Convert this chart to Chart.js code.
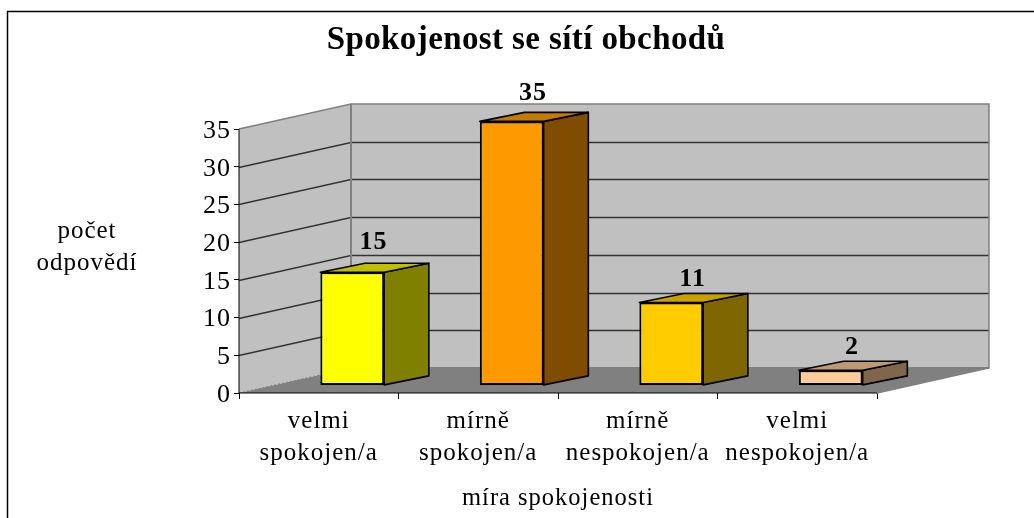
<!DOCTYPE html>
<html><head><meta charset="utf-8">
<style>html,body{margin:0;padding:0;background:#fff}#w{position:relative;width:1034px;height:518px}</style>
<script src="https://cdn.jsdelivr.net/npm/chart.js@4"></script>
</head><body><div id="w"><canvas id="c" width="1034" height="518"></canvas></div>
<script>
const categories = [["velmi","spokojen/a"],["mírně","spokojen/a"],["mírně","nespokojen/a"],["velmi","nespokojen/a"]];
const values = [15,35,11,2];
const yTicks = [0,5,10,15,20,25,30,35];
const frontColors = ["#ffff00","#ff9900","#ffcc00","#ffcc99"];
const sideColors = ["#808000","#804d00","#806600","#80664d"];
const topColors = ["#bfbf00","#c77a00","#c8a000","#bf9973"];
const chartTitle = "Spokojenost se sítí obchodů";
const xTitle = "míra spokojenosti";
const yTitle = ["počet","odpovědí"];

const SERIF = '"Liberation Serif","Times New Roman",serif';
const wall = {dx:112, dy:-25};
const barShift = {dx:33.5, dy:-7.6};
const barDepth = {dx:44.7, dy:-9};
const labelGaps = [31,29,24,24];

const frame = {
  id:'frame',
  beforeDraw(chart){ chart.ctx.letterSpacing='1px'; },
  beforeDatasetsDraw(chart){
    const {ctx, scales:{x,y}} = chart;
    const l=x.left, r=x.right, b=y.getPixelForValue(0), t=y.getPixelForValue(35);
    ctx.save();
    ctx.strokeStyle='#000'; ctx.lineWidth=1.5;
    ctx.strokeRect(7.5,11.5,1100,600);
    ctx.fillStyle='#c0c0c0';
    ctx.beginPath();ctx.moveTo(l,b);ctx.lineTo(l,t);ctx.lineTo(l+wall.dx,t+wall.dy);ctx.lineTo(l+wall.dx,b+wall.dy);ctx.closePath();ctx.fill();
    ctx.fillRect(l+wall.dx,t+wall.dy,r-l,b-t);
    ctx.fillStyle='#808080';
    ctx.beginPath();ctx.moveTo(l,b);ctx.lineTo(r,b);ctx.lineTo(r+wall.dx,b+wall.dy);ctx.lineTo(l+wall.dx,b+wall.dy);ctx.closePath();ctx.fill();
    ctx.lineWidth=1.3;ctx.strokeStyle='#333';
    yTicks.forEach(v=>{
      if(v===0||v===35) return;
      const p=Math.round(y.getPixelForValue(v))+.5;
      ctx.beginPath();ctx.moveTo(l,p);ctx.lineTo(l+wall.dx,p+wall.dy);ctx.lineTo(r+wall.dx,p+wall.dy);ctx.stroke();
    });
    ctx.strokeStyle='#808080';ctx.lineWidth=1.5;
    ctx.beginPath();ctx.moveTo(l,t);ctx.lineTo(l+wall.dx,t+wall.dy);ctx.lineTo(r+wall.dx,t+wall.dy);ctx.lineTo(r+wall.dx,b+wall.dy);ctx.lineTo(r,b);ctx.stroke();
    ctx.lineWidth=2;
    ctx.beginPath();ctx.moveTo(l+wall.dx,t+wall.dy);ctx.lineTo(l+wall.dx,b+wall.dy);ctx.lineTo(r+wall.dx,b+wall.dy);ctx.stroke();
    ctx.lineWidth=1;ctx.setLineDash([2,2]);
    ctx.beginPath();ctx.moveTo(l,b);ctx.lineTo(l+wall.dx,b+wall.dy);ctx.stroke();ctx.setLineDash([]);
    ctx.strokeStyle='#000';ctx.lineWidth=1;
    ctx.beginPath();ctx.moveTo(l,t);ctx.lineTo(l,b);ctx.lineTo(r,b);ctx.stroke();
    ctx.restore();
    const meta=chart.getDatasetMeta(0);
    ctx.save();
    ctx.translate(barShift.dx,barShift.dy);
    ctx.lineJoin='round';ctx.strokeStyle='#000';ctx.lineWidth=1.6;
    meta.data.forEach((bar,i)=>{
      const xl=bar.x-bar.width/2,xr=bar.x+bar.width/2,yt=bar.y,yb=bar.base;
      const d=barDepth;
      ctx.fillStyle=sideColors[i];
      ctx.beginPath();ctx.moveTo(xr,yt);ctx.lineTo(xr+d.dx,yt+d.dy);ctx.lineTo(xr+d.dx,yb+d.dy);ctx.lineTo(xr,yb);ctx.closePath();ctx.fill();ctx.stroke();
      ctx.fillStyle=topColors[i];
      ctx.beginPath();ctx.moveTo(xl,yt);ctx.lineTo(xl+d.dx,yt+d.dy);ctx.lineTo(xr+d.dx,yt+d.dy);ctx.lineTo(xr,yt);ctx.closePath();ctx.fill();ctx.stroke();
    });
  },
  afterDatasetsDraw(chart){
    const {ctx}=chart;
    ctx.restore();
    const meta=chart.getDatasetMeta(0);
    ctx.save();
    ctx.fillStyle='#000';ctx.textAlign='center';ctx.textBaseline='middle';
    ctx.font='bold 26px '+SERIF;
    meta.data.forEach((bar,i)=>{
      ctx.fillText(String(values[i]),bar.x+barShift.dx+barDepth.dx/2-1,bar.y+barShift.dy-labelGaps[i]+1);
    });
    ctx.letterSpacing='0.4px';
    ctx.font='bold 33px '+SERIF;
    ctx.fillText(chartTitle,526,40);
    ctx.letterSpacing='1px';
    ctx.font='25px '+SERIF;
    ctx.fillText(yTitle[0],87,231);
    ctx.fillText(yTitle[1],87,263);
    ctx.restore();
  }
};

new Chart(document.getElementById('c'),{
  type:'bar',
  data:{labels:categories,datasets:[{data:values,backgroundColor:frontColors,borderColor:'#000',borderWidth:2,borderSkipped:false,barPercentage:0.4,categoryPercentage:1,clip:false}]},
  plugins:[frame],
  options:{
    responsive:false,animation:false,
    layout:{padding:{top:129,left:0,right:157,bottom:0}},
    plugins:{legend:{display:false},tooltip:{enabled:false},title:{display:false}},
    scales:{
      x:{
        afterFit(s){s.height=125;},
        grid:{display:true,drawOnChartArea:false,drawTicks:true,tickLength:6,color:'#000',offset:true},
        border:{display:false},
        ticks:{color:'#000',font:{family:SERIF,size:25,lineHeight:1.28},padding:6,maxRotation:0,autoSkip:false},
        title:{display:true,text:xTitle,color:'#000',font:{family:SERIF,size:24.5},padding:{top:2,bottom:5}}
      },
      y:{
        min:0,max:35,
        afterFit(s){s.width=239;},
        afterBuildTicks(s){s.ticks=yTicks.map(v=>({value:v}));},
        grid:{display:true,drawOnChartArea:false,drawTicks:true,tickLength:5,color:'#000'},
        border:{display:false},
        ticks:{color:'#000',font:{family:SERIF,size:26},padding:3,labelOffset:2}
      }
    }
  }
});
</script></body></html>
